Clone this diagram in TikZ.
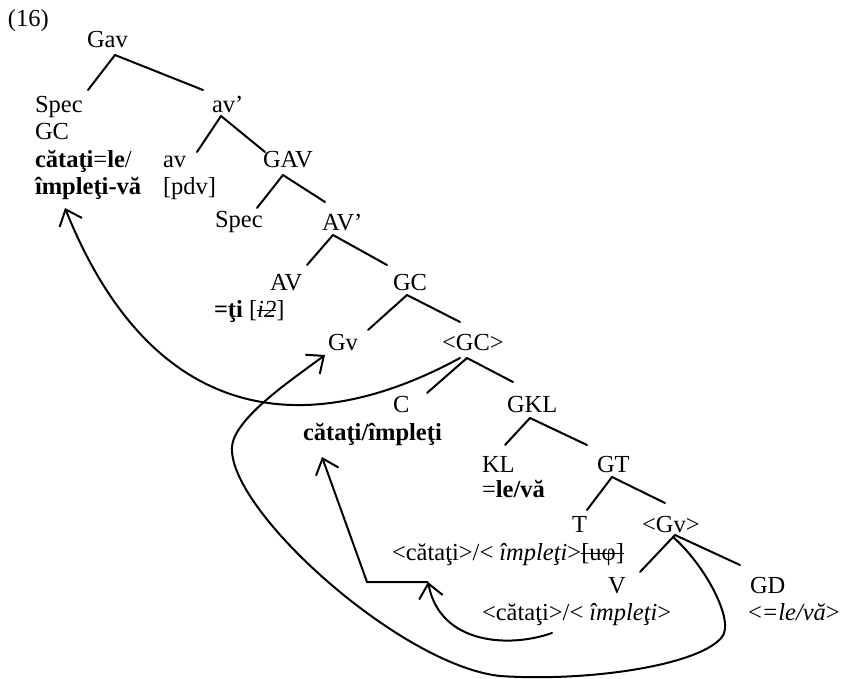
\documentclass[tikz,border=0pt]{standalone}
\usepackage{fontspec}
\setmainfont{Liberation Serif}
\usetikzlibrary{arrows.meta}
\newcommand\strk[1]{\setbox0=\hbox{#1}\rlap{\rule[0.25em]{\wd0}{1.1pt}}\box0}
\begin{document}
\begin{tikzpicture}[x=1pt,y=-1pt,
  lbl/.style={inner sep=0pt,outer sep=0pt,anchor=base west,font=\fontsize{24.5}{28}\selectfont},
  br/.style={line width=2pt,line cap=round},
  mv/.style={line width=2pt,line cap=round,-{Straight Barb[length=14pt,width=24pt,line width=2pt]}}]
\useasboundingbox[fill=white] (0,0) rectangle (846,679);
% labels
\node[lbl] (n16) at (8,27) {(16)};
\node[lbl] (Gav) at (87,48) {Gav};
\node[lbl] (SpecA) at (35,113) {Spec};
\node[lbl] (GCa) at (35,140) {GC};
\node[lbl] (wA1) at (35,168) {\textbf{cătaţi}=\textbf{le}/};
\node[lbl] (wA2) at (35,195) {\textbf{împleţi-vă}};
\node[lbl] (avp) at (212,113) {av’};
\node[lbl] (av) at (163,168) {av};
\node[lbl] (pdv) at (163,195) {[pdv]};
\node[lbl] (GAV) at (263,168) {GAV};
\node[lbl] (SpecB) at (215,228) {Spec};
\node[lbl] (AVp) at (322,230) {AV’};
\node[lbl] (AV) at (270,290) {AV};
\node[lbl] (ti) at (214,317) {\textbf{=ţi} [\strk{\textit{i2}}]};
\node[lbl] (GC) at (393,290) {GC};
\node[lbl] (Gv) at (328,350) {Gv};
\node[lbl] (GCb) at (442,350) {<GC>};
\node[lbl] (C) at (393,412) {C};
\node[lbl] (wC) at (303,440) {\textbf{cătaţi/împleţi}};
\node[lbl] (GKL) at (507,412) {GKL};
\node[lbl] (KL) at (482,472) {KL};
\node[lbl] (wKL) at (482,497) {=\textbf{le/vă}};
\node[lbl] (GT) at (597,472) {GT};
\node[lbl] (T) at (572,532) {T};
\node[lbl] (Gvb) at (642,532) {<Gv>};
\node[lbl] (wT) at (392,560) {<cătaţi>/< \textit{împleţi}>\strk{[uφ]}};
\node[lbl] (V) at (608,593) {V};
\node[lbl] (GD) at (750,593) {GD};
\node[lbl] (wV) at (482,620) {<cătaţi>/< \textit{împleţi}>};
\node[lbl] (wGD) at (748,620) {<\textit{=le/vă}>};
% tree branches
\draw[br] ([shift={(28,7)}]Gav.base west) -- ([shift={(53,-23)}]SpecA.base west);
\draw[br] ([shift={(28,7)}]Gav.base west) -- ([shift={(-9,-23)}]avp.base west);
\draw[br] ([shift={(9,3)}]avp.base west) -- ([shift={(34,-16)}]av.base west);
\draw[br] ([shift={(9,3)}]avp.base west) -- ([shift={(2,-16)}]GAV.base west);
\draw[br] ([shift={(20,7)}]GAV.base west) -- ([shift={(42,-20)}]SpecB.base west);
\draw[br] ([shift={(20,7)}]GAV.base west) -- ([shift={(3,-28)}]AVp.base west);
\draw[br] ([shift={(11,5)}]AVp.base west) -- ([shift={(37,-25)}]AV.base west);
\draw[br] ([shift={(11,5)}]AVp.base west) -- ([shift={(-6,-25)}]GC.base west);
\draw[br] ([shift={(14,5)}]GC.base west) -- ([shift={(40,-20)}]Gv.base west);
\draw[br] ([shift={(14,5)}]GC.base west) -- ([shift={(18,-28)}]GCb.base west);
\draw[br] ([shift={(25,8)}]GCb.base west) -- ([shift={(34,-19)}]C.base west);
\draw[br] ([shift={(25,8)}]GCb.base west) -- ([shift={(6,-30)}]GKL.base west);
\draw[br] ([shift={(23,6)}]GKL.base west) -- ([shift={(23,-27)}]KL.base west);
\draw[br] ([shift={(23,6)}]GKL.base west) -- ([shift={(-10,-27)}]GT.base west);
\draw[br] ([shift={(15,5)}]GT.base west) -- ([shift={(15,-22)}]T.base west);
\draw[br] ([shift={(15,5)}]GT.base west) -- ([shift={(23,-29)}]Gvb.base west);
\draw[br] ([shift={(33,3)}]Gvb.base west) -- ([shift={(32,-21)}]V.base west);
\draw[br] ([shift={(33,3)}]Gvb.base west) -- ([shift={(-10,-28)}]GD.base west);
% movement arrows
\draw[mv] ([shift={(18,8)}]GCb.base west) .. controls (300,445) and (150,420) .. ([shift={(30,13)}]wA2.base west);
\draw[mv] ([shift={(31,5)}]Gvb.base west) .. controls (705,565) and (735,621) .. (722,637)
   .. controls (700,665) and (590,682) .. (500,676)
   .. controls (400,665) and (228,510) .. (232,447)
   .. controls (234,418) and (293,379) .. ([shift={(-3,5)}]Gv.base west);
\coordinate (tipT) at ([shift={(36,22)}]wT.base west);
\draw[mv] ([shift={(70,13)}]wV.base west) .. controls (510,648) and (440,645) .. (tipT);
\draw[mv,line cap=butt] (tipT) -- ++(-61,0) -- ([shift={(19,17)}]wC.base west);
\end{tikzpicture}
\end{document}
